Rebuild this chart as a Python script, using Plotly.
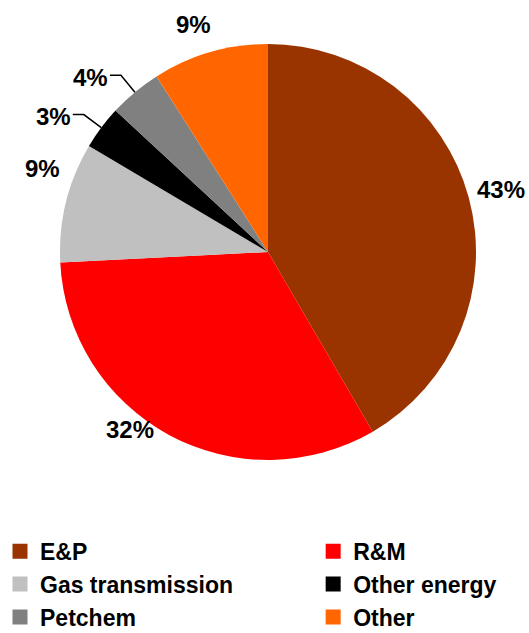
import math
import plotly.graph_objects as go

W, H = 529, 633
labels = ["E&P", "R&M", "Gas transmission", "Other energy", "Petchem", "Other"]
values = [41.6, 32.6, 9.3, 3.4, 4.1, 9.0]
text_labels = ["43%", "32%", "9%", "3%", "4%", "9%"]
colors = ["#993300", "#FF0000", "#C0C0C0", "#000000", "#808080", "#FF6600"]

# ---- styling / layout parameters (not data) ----
cx, cy, r = 268, 252, 208            # pie centre and radius in px
label_dist = [241, 225, 241, None, None, 239]     # px from centre (None -> leader line)
label_shift = [0, 9.4, 6.5, 0, 0, -2]             # degrees
legend_column = ["legend", "legend2", "legend", "legend2", "legend", "legend2"]
FONT = "Liberation Sans, Arial, sans-serif"

fig = go.Figure()
fig.add_trace(go.Pie(
    labels=labels, values=values,
    textinfo="none", showlegend=False,
    sort=False, direction="clockwise", rotation=0,
    marker=dict(colors=colors, line=dict(width=0)),
    domain=dict(x=[(cx - r) / W, (cx + r) / W], y=[1 - (cy + r) / H, 1 - (cy - r) / H]),
    hoverinfo="label+percent",
))

# legend entries with square markers (two columns -> two legends)
for lab, col, lg in zip(labels, colors, legend_column):
    fig.add_trace(go.Scatter(x=[None], y=[None], mode="markers", name=lab,
                             legend=lg, legendgroup=lab,
                             marker=dict(symbol="square", size=15, color=col)))

# labels computed from slice angles
total = sum(values)
cum = 0.0
annotations, shapes = [], []
def px2paper(x, y):
    return x / W, 1 - y / H

lab_font = dict(family=FONT, size=24, color="black", weight="bold")
for v, t, d, s in zip(values, text_labels, label_dist, label_shift):
    mid = (cum + v / 2) / total * 360.0
    cum += v
    a = math.radians(mid)
    if d is not None:
        aa = math.radians(mid + s)
        x = cx + d * math.sin(aa)
        y = cy - d * math.cos(aa)
        px, py = px2paper(x, y)
        annotations.append(dict(x=px, y=py, xref="paper", yref="paper", text=t,
                                showarrow=False, xanchor="center", yanchor="middle",
                                font=lab_font))
    else:
        ex, ey = cx + r * math.sin(a), cy - r * math.cos(a)
        kx, ky = cx + 1.105 * r * math.sin(a), cy - 1.105 * r * math.cos(a)
        hx = kx - 11
        p0, p1, p2 = px2paper(ex, ey), px2paper(kx, ky), px2paper(hx, ky)
        shapes.append(dict(type="path", xref="paper", yref="paper",
                           path=f"M{p0[0]},{p0[1]} L{p1[0]},{p1[1]} L{p2[0]},{p2[1]}",
                           line=dict(color="black", width=1.5)))
        annotations.append(dict(x=p2[0], y=p2[1], xref="paper", yref="paper", text=t,
                                showarrow=False, xanchor="right", yanchor="middle",
                                yshift=-2, font=lab_font))

leg_common = dict(
    orientation="v", yanchor="bottom", y=-0.009,
    font=dict(family=FONT, size=23, color="black", weight="bold"),
    tracegroupgap=0, traceorder="normal",
    itemclick=False, itemdoubleclick=False,
    bgcolor="rgba(0,0,0,0)",
)

fig.update_layout(
    width=W, height=H,
    margin=dict(l=0, r=0, t=0, b=0, autoexpand=False),
    paper_bgcolor="white", plot_bgcolor="white",
    showlegend=True,
    xaxis=dict(visible=False), yaxis=dict(visible=False),
    annotations=annotations, shapes=shapes,
    legend=dict(x=0.0, xanchor="left", **leg_common),
    legend2=dict(x=0.592, xanchor="left", **leg_common),
)

fig.write_html("out.html")
